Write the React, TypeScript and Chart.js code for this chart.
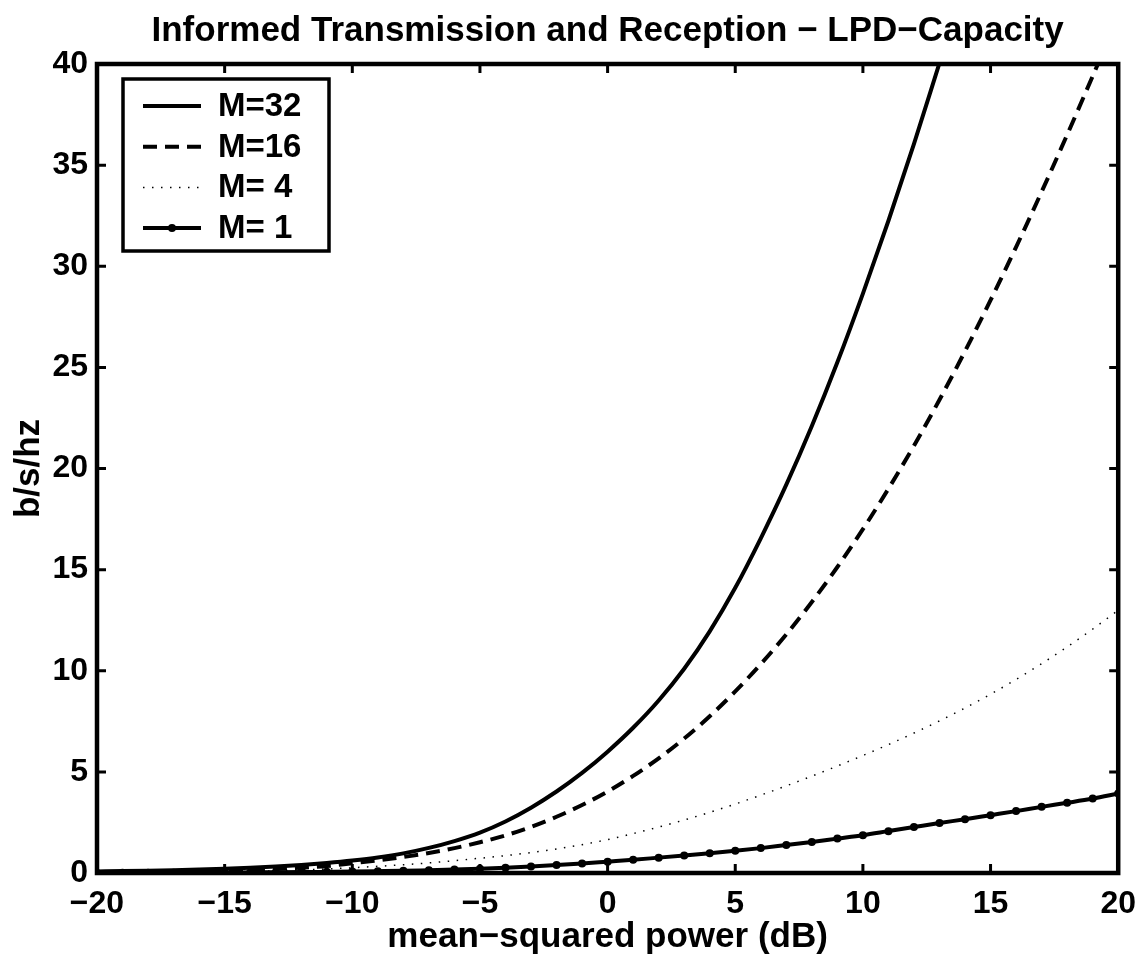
import React, { useEffect, useRef } from "react";
import { Chart, registerables } from "chart.js";

Chart.register(...registerables);

const TITLE = "Informed Transmission and Reception \u2212 LPD\u2212Capacity";
const X_LABEL = "mean\u2212squared power (dB)";
const Y_LABEL = "b/s/hz";

const powerDb = [
  -20, -19, -18, -17, -16, -15, -14, -13, -12, -11, -10, -9, -8, -7, -6, -5, -4, -3, -2, -1,
  0, 1, 2, 3, 4, 5, 6, 7, 8, 9, 10, 11, 12, 13, 14, 15, 16, 17, 18, 19, 20,
];

const m32 = [
  0.08, 0.095, 0.115, 0.14, 0.17, 0.21, 0.26, 0.32, 0.4, 0.5, 0.62, 0.77, 0.97, 1.24, 1.58, 2.0,
  2.55, 3.23, 4.03, 4.95, 6.0, 7.18, 8.53, 10.1, 11.95, 14.1, 16.55, 19.2, 22.1, 25.25, 28.65,
  32.25, 36.05, 40.05,
];

const m16 = [
  0.025, 0.035, 0.045, 0.06, 0.08, 0.11, 0.15, 0.2, 0.26, 0.34, 0.48, 0.62, 0.79, 0.99, 1.23,
  1.52, 1.86, 2.28, 2.78, 3.36, 4.03, 4.8, 5.67, 6.65, 7.75, 8.98, 10.33, 11.8, 13.4, 15.13, 17.0,
  19.0, 21.13, 23.4, 25.8, 28.32, 30.95, 33.68, 36.5, 39.4, 42.35,
];

const m4 = [
  0.015, 0.02, 0.025, 0.035, 0.045, 0.06, 0.08, 0.11, 0.15, 0.2, 0.26, 0.33, 0.41, 0.5, 0.61,
  0.73, 0.86, 1.01, 1.19, 1.4, 1.65, 1.95, 2.27, 2.62, 3.0, 3.41, 3.85, 4.31, 4.79, 5.29, 5.81,
  6.35, 6.92, 7.52, 8.16, 8.84, 9.57, 10.35, 11.18, 12.06, 12.99,
];

const m1 = [
  0.005, 0.007, 0.01, 0.013, 0.017, 0.022, 0.028, 0.036, 0.045, 0.058, 0.072, 0.09, 0.11, 0.14,
  0.17, 0.21, 0.26, 0.32, 0.39, 0.47, 0.56, 0.65, 0.76, 0.87, 0.98, 1.1, 1.23, 1.38, 1.53, 1.7,
  1.87, 2.07, 2.27, 2.47, 2.66, 2.86, 3.06, 3.27, 3.47, 3.68, 3.93,
];

const seriesLabels = ["M=32", "M=16", "M= 4", "M= 1"];

const xTickValues = [-20, -15, -10, -5, 0, 5, 10, 15, 20];
const yTickValues = [0, 5, 10, 15, 20, 25, 30, 35, 40];

const FONT_FAMILY = "'Liberation Sans', Arial, Helvetica, sans-serif";
const FONT_SIZE = 32;
const LABEL_SIZE = 35;

const fmt = (v: number) => String(v).replace("-", "\u2212");

const toPoints = (ys: number[]) => ys.map((y, i) => ({ x: powerDb[i], y }));

const framePlugin = {
  id: "frameAndLegend",
  afterDatasetsDraw(chart: any) {
    const { ctx, chartArea } = chart;
    const xs = chart.scales.x;
    const ys = chart.scales.y;
    const { left, right, top, bottom } = chartArea;
    ctx.save();
    ctx.strokeStyle = "#000";
    ctx.lineCap = "butt";
    ctx.lineWidth = 3;
    const tl = 9;
    ctx.beginPath();
    xTickValues.forEach((v) => {
      const px = xs.getPixelForValue(v);
      ctx.moveTo(px, bottom);
      ctx.lineTo(px, bottom - tl);
      ctx.moveTo(px, top);
      ctx.lineTo(px, top + tl);
    });
    yTickValues.forEach((v) => {
      const py = ys.getPixelForValue(v);
      ctx.moveTo(left, py);
      ctx.lineTo(left + tl, py);
      ctx.moveTo(right, py);
      ctx.lineTo(right - tl, py);
    });
    ctx.stroke();
    ctx.lineWidth = 4.5;
    ctx.lineJoin = "miter";
    ctx.strokeRect(left, top, right - left, bottom - top);

    // legend
    const lx = left + 26;
    const ly = top + 15;
    const lw = 206;
    const lh = 172;
    ctx.fillStyle = "#fff";
    ctx.fillRect(lx, ly, lw, lh);
    ctx.lineWidth = 3.5;
    ctx.strokeRect(lx, ly, lw, lh);
    ctx.font = `bold ${FONT_SIZE + 1}px ${FONT_FAMILY}`;
    ctx.textBaseline = "middle";
    ctx.textAlign = "left";
    chart.data.datasets.forEach((ds: any, i: number) => {
      const ry = ly + 27 + i * 40.7;
      const x0 = lx + 20;
      const x1 = lx + 78;
      ctx.save();
      ctx.strokeStyle = "#000";
      ctx.lineWidth = ds.borderWidth;
      ctx.setLineDash(ds.borderDash || []);
      ctx.beginPath();
      ctx.moveTo(x0, ry);
      ctx.lineTo(x1, ry);
      ctx.stroke();
      ctx.restore();
      if (ds.pointRadius > 0) {
        ctx.beginPath();
        ctx.fillStyle = "#000";
        ctx.arc((x0 + x1) / 2, ry, ds.pointRadius, 0, Math.PI * 2);
        ctx.fill();
      }
      ctx.fillStyle = "#000";
      ctx.fillText(ds.label, lx + 95, ry + 1);
    });
    ctx.restore();
  },
};

export default function App() {
  const canvasRef = useRef<HTMLCanvasElement | null>(null);

  useEffect(() => {
    document.body.style.margin = "0";
    const canvas = canvasRef.current;
    if (!canvas) return;
    const common = {
      borderColor: "#000",
      backgroundColor: "#000",
      fill: false,
      cubicInterpolationMode: "monotone",
      pointHoverRadius: 0,
    };
    const chart = new Chart(canvas, {
      type: "line",
      data: {
        datasets: [
          { ...common, label: seriesLabels[0], data: toPoints(m32), borderWidth: 4, borderDash: [], pointRadius: 0 },
          { ...common, label: seriesLabels[1], data: toPoints(m16), borderWidth: 4, borderDash: [14, 8], pointRadius: 0 },
          { ...common, label: seriesLabels[2], data: toPoints(m4), borderWidth: 1.5, borderDash: [1.5, 7.5], pointRadius: 0 },
          { ...common, label: seriesLabels[3], data: toPoints(m1), borderWidth: 4, borderDash: [], pointRadius: 4, pointBorderWidth: 0 },
        ],
      },
      options: {
        animation: false,
        responsive: false,
        devicePixelRatio: 1,
        events: [],
        layout: { padding: { left: 0, right: 25, top: 0, bottom: 0 } },
        plugins: {
          legend: { display: false },
          tooltip: { enabled: false },
          title: {
            display: true,
            text: TITLE,
            color: "#000",
            fullSize: false,
            font: { family: FONT_FAMILY, size: LABEL_SIZE, weight: "bold" },
            padding: { top: 10, bottom: 12 },
          },
        },
        scales: {
          x: {
            type: "linear",
            min: -20,
            max: 20,
            grid: { display: false, drawTicks: false },
            border: { display: false },
            afterBuildTicks: (scale: any) => {
              scale.ticks = xTickValues.map((v) => ({ value: v }));
            },
            afterFit: (scale: any) => {
              scale.height = 88;
            },
            ticks: {
              color: "#000",
              padding: 12,
              maxRotation: 0,
              autoSkip: false,
              font: { family: FONT_FAMILY, size: FONT_SIZE, weight: "bold" },
              callback: (v: any) => fmt(Number(v)),
            },
            title: {
              display: true,
              text: X_LABEL,
              color: "#000",
              font: { family: FONT_FAMILY, size: LABEL_SIZE, weight: "bold" },
              padding: { top: 4, bottom: 3 },
            },
          },
          y: {
            type: "linear",
            min: 0,
            max: 40,
            grid: { display: false, drawTicks: false },
            border: { display: false },
            afterBuildTicks: (scale: any) => {
              scale.ticks = yTickValues.map((v) => ({ value: v }));
            },
            afterFit: (scale: any) => {
              scale.width = 97;
            },
            ticks: {
              color: "#000",
              padding: 9,
              autoSkip: false,
              font: { family: FONT_FAMILY, size: FONT_SIZE, weight: "bold" },
              callback: (v: any) => fmt(Number(v)),
            },
            title: {
              display: true,
              text: Y_LABEL,
              color: "#000",
              font: { family: FONT_FAMILY, size: LABEL_SIZE, weight: "bold" },
              padding: { top: 8, bottom: 4 },
            },
          },
        },
      },
      plugins: [framePlugin],
    } as any);
    return () => chart.destroy();
  }, []);

  return (
    <div style={{ width: 1148, height: 961, background: "#fff" }}>
      <canvas ref={canvasRef} width={1148} height={961} style={{ display: "block" }} />
    </div>
  );
}
